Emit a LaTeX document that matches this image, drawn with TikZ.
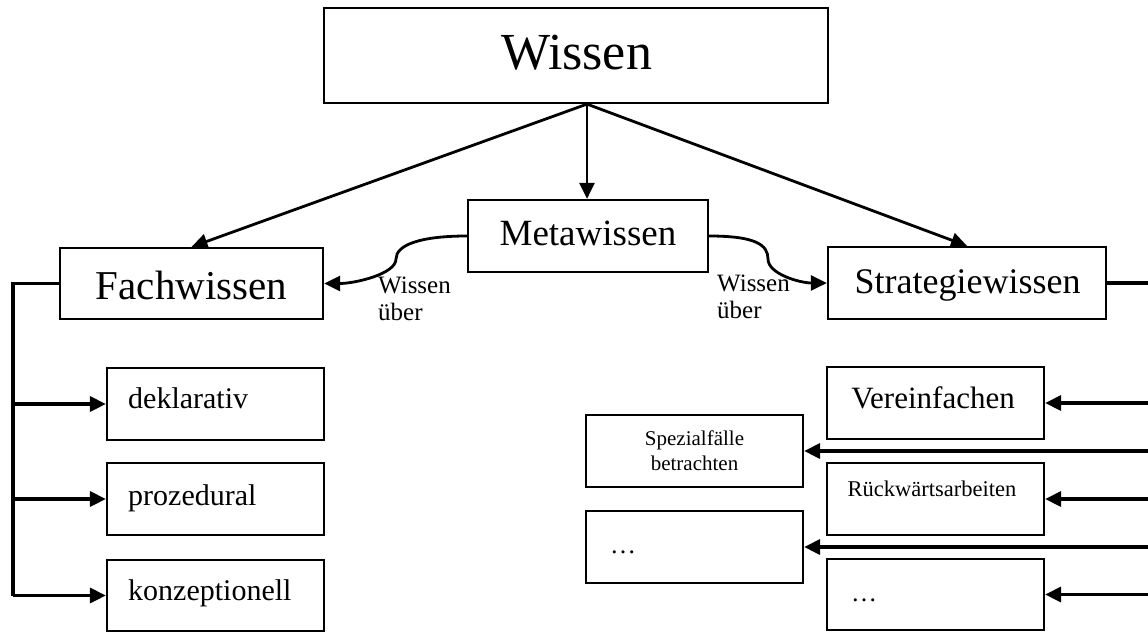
\documentclass[tikz,border=0pt]{standalone}
\usepackage{fontspec}
\setmainfont{Liberation Serif}
\usetikzlibrary{arrows.meta,calc}

\newcommand\fsz[1]{\fontsize{#1}{#1}\selectfont}

\tikzset{
  box/.style={draw, line width=2.2pt, rectangle, inner sep=0pt},
  sbox/.style={box, minimum width=217pt, minimum height=72pt},
  txt/.style={inner sep=0pt, anchor=base},
  ltxt/.style={inner sep=0pt, anchor=base west},
  tip/.style={-{Triangle[length=16pt,width=15pt]}},
  conn/.style={line width=2.8pt, tip},
  bus/.style={line width=3.2pt, line join=miter},
  busarrow/.style={bus, tip},
}

\begin{document}
\begin{tikzpicture}[x=1pt,y=-1pt]
  \useasboundingbox (0,0) rectangle (1148,632);
  \fill[white] (0,0) rectangle (1148,632);

  % top level
  \node[box, minimum width=504pt, minimum height=95pt] (wissen) at (576,55.5) {};
  \node[txt, font=\fsz{52}] (tWissen) at (576.5,69) {Wissen};

  % second level
  \node[box, minimum width=240pt, minimum height=72pt] (meta) at (588,236) {};
  \node[txt, font=\fsz{37}] (tMeta) at (588,245.5) {Metawissen};

  \node[box, minimum width=263pt, minimum height=71pt] (fach) at (191.5,283.5) {};
  \node[txt, font=\fsz{41}] (tFach) at (191.5,299) {Fachwissen};

  \node[box, minimum width=278pt, minimum height=72pt] (strat) at (967,283) {};
  \node[txt, font=\fsz{36}] (tStrat) at (967.5,293) {Strategiewissen};

  % kinds of subject knowledge
  \node[sbox] (dekl) at (215.5,404) {};
  \node[ltxt, font=\fsz{30}] (tDekl) at (128,408) {deklarativ};
  \node[sbox] (proz) at (215.5,499) {};
  \node[ltxt, font=\fsz{30}] (tProz) at (128,505) {prozedural};
  \node[sbox, minimum height=71pt] (konz) at (215.5,595.5) {};
  \node[ltxt, font=\fsz{30}] (tKonz) at (128,600) {konzeptionell};

  % strategies
  \node[sbox] (ver) at (935.5,403) {};
  \node[txt, font=\fsz{31}] (tVer) at (933,408) {Vereinfachen};
  \node[sbox] (spez) at (694.5,451) {};
  \node[txt, font=\fsz{21}, align=center] (tSpez) at (694.5,470) {Spezialfälle\\[4pt]betrachten};
  \node[sbox] (rueck) at (935.5,499) {};
  \node[txt, font=\fsz{22.5}] (tRueck) at (932,496) {Rückwärtsarbeiten};
  \node[sbox] (dotsL) at (694.5,547) {};
  \node[ltxt, font=\fsz{26}] (tDotsL) at (610,553) {…};
  \node[sbox, minimum height=71pt] (dotsR) at (935.5,594.5) {};
  \node[ltxt, font=\fsz{26}] (tDotsR) at (851,601) {…};

  % labels on the meta curves
  \node[ltxt, font=\fsz{25}, align=left] (lblL) at (378,320) {Wissen\\[2pt]über};
  \node[ltxt, font=\fsz{25}, align=left] (lblR) at (717,318) {Wissen\\[2pt]über};

  % arrows from the top box
  \coordinate (hub) at ($(wissen.south)+(11,0)$);
  \draw[conn] (hub) -- (fach.north);
  \draw[conn] (hub) -- (strat.north);
  \draw[conn] (hub) -- (hub |- meta.north);

  % meta knowledge curves
  \coordinate (lbend) at (396,259);
  \coordinate (rbend) at (768,259);
  \draw[conn] (meta.west) .. controls (420,236) and (396,245) .. (lbend)
              .. controls (396,274) and (355,283.5) .. (fach.east);
  \draw[conn] (meta.east) .. controls (756,236) and (768,245) .. (rbend)
              .. controls (768,274) and (800,283) .. (strat.west);

  % left bus
  \coordinate (lbus) at (13,283.5);
  \draw[bus] (fach.west) -- (lbus) -- (lbus |- konz.west);
  \draw[busarrow] (lbus |- dekl.west) -- (dekl.west);
  \draw[busarrow] (lbus |- proz.west) -- (proz.west);
  \draw[busarrow] (lbus |- konz.west) -- (konz.west);

  % right bus
  \coordinate (rbus) at (1150,283);
  \draw[bus] (strat.east) -- (rbus);
  \draw[busarrow] (rbus |- ver.east) -- (ver.east);
  \draw[busarrow] (rbus |- spez.east) -- (spez.east);
  \draw[busarrow] (rbus |- rueck.east) -- (rueck.east);
  \draw[busarrow] (rbus |- dotsL.east) -- (dotsL.east);
  \draw[busarrow] (rbus |- dotsR.east) -- (dotsR.east);
\end{tikzpicture}
\end{document}
